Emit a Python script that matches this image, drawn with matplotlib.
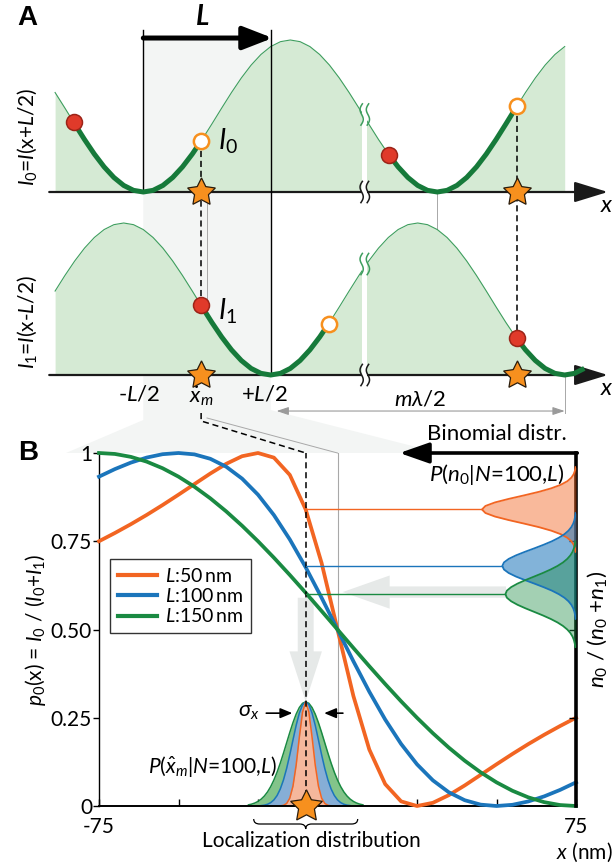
import numpy as np
import matplotlib
matplotlib.use("Agg")
import matplotlib.pyplot as plt
from matplotlib.lines import Line2D
from matplotlib.patches import Polygon, FancyArrow, Rectangle, PathPatch
from matplotlib.path import Path

plt.rcParams['font.family'] = ['Lato', 'DejaVu Sans']
plt.rcParams['mathtext.fontset'] = 'custom'
plt.rcParams['mathtext.rm'] = 'Lato'
plt.rcParams['mathtext.it'] = 'Lato:italic'
plt.rcParams['mathtext.bf'] = 'Lato:bold'
plt.rcParams['mathtext.sf'] = 'Lato'
plt.rcParams['axes.unicode_minus'] = False

# ======================= DATA =======================
# Panel A: schematic standing-wave intensity profile I(u), u in nm
intensity_u = list(range(-220, 450, 10))
intensity_I = [0.5523, 0.6545, 0.7500, 0.8346, 0.9045, 0.9568, 0.9891, 1.0000,
               0.9891, 0.9568, 0.9045, 0.8346, 0.7500, 0.6545, 0.5523, 0.4477,
               0.3455, 0.2500, 0.1654, 0.0955, 0.0432, 0.0109, 0.0000, 0.0109,
               0.0432, 0.0955, 0.1654, 0.2500, 0.3455, 0.4477, 0.5523, 0.6545,
               0.7500, 0.8346, 0.9045, 0.9568, 0.9891, 1.0000, 0.9891, 0.9568,
               0.9045, 0.8346, 0.7500, 0.6545, 0.5523, 0.4477, 0.3455, 0.2500,
               0.1654, 0.0955, 0.0432, 0.0109, 0.0000, 0.0109, 0.0432, 0.0955,
               0.1654, 0.2500, 0.3455, 0.4477, 0.5523, 0.6545, 0.7500, 0.8346,
               0.9045, 0.9568, 0.9891]
L_shift_A = 130          # schematic shift L in panel A (nm)
xm_A = -6                # measured emitter position
xr_A = 316               # same emitter, m*lambda/2 further
I_red_1, I_open_1 = 0.4582, 0.3356
I_red_2, I_open_2 = 0.2410, 0.5627
break_x_A = 161
break_levels = [0.49, 0.71]

# Panel B: p0(x) = I0/(I0+I1) for three shifts L
x_nm = list(range(-75, 80, 5))
p0_L50 = [0.7500, 0.7734, 0.7982, 0.8246, 0.8526, 0.8819, 0.9119, 0.9418, 0.9693, 0.9909,
          1.0000, 0.9869, 0.9380, 0.8400, 0.6884, 0.5000, 0.3116, 0.1600, 0.0620, 0.0131,
          0.0000, 0.0091, 0.0307, 0.0582, 0.0881, 0.1181, 0.1474, 0.1754, 0.2018, 0.2266, 0.2500]
p0_L100 = [0.9330, 0.9544, 0.9727, 0.9871, 0.9966, 1.0000, 0.9961, 0.9836, 0.9611, 0.9274,
           0.8819, 0.8242, 0.7551, 0.6762, 0.5900, 0.5000, 0.4100, 0.3238, 0.2449, 0.1758,
           0.1181, 0.0726, 0.0389, 0.0164, 0.0039, 0.0000, 0.0034, 0.0129, 0.0273, 0.0456, 0.0670]
p0_L150 = [1.0000, 0.9973, 0.9891, 0.9755, 0.9568, 0.9330, 0.9045, 0.8716, 0.8346, 0.7939,
           0.7500, 0.7034, 0.6545, 0.6040, 0.5523, 0.5000, 0.4477, 0.3960, 0.3455, 0.2966,
           0.2500, 0.2061, 0.1654, 0.1284, 0.0955, 0.0670, 0.0432, 0.0245, 0.0109, 0.0027, 0.0000]
series_labels = [r'$L$:50$\,$nm', r'$L$:100$\,$nm', r'$L$:150$\,$nm']
xm_B = -10
N_photons = 100

# Binomial distributions P(n0 | N=100, L)
n0_L50 = list(range(72, 97))
P_L50 = [0.0005, 0.0012, 0.0027, 0.0054, 0.0101, 0.0176, 0.0286, 0.0429, 0.0600, 0.0778,
         0.0937, 0.1047, 0.1087, 0.1047, 0.0937, 0.0778, 0.0600, 0.0429, 0.0286, 0.0176,
         0.0101, 0.0054, 0.0027, 0.0012, 0.0005]
n0_L100 = list(range(53, 84))
P_L100 = [0.0005, 0.0010, 0.0018, 0.0032, 0.0054, 0.0087, 0.0134, 0.0198, 0.0278, 0.0375,
          0.0481, 0.0591, 0.0694, 0.0778, 0.0833, 0.0852, 0.0833, 0.0778, 0.0694, 0.0591,
          0.0481, 0.0375, 0.0278, 0.0198, 0.0134, 0.0087, 0.0054, 0.0032, 0.0018, 0.0010, 0.0005]
n0_L150 = list(range(45, 76))
P_L150 = [0.0007, 0.0014, 0.0024, 0.0040, 0.0065, 0.0101, 0.0150, 0.0214, 0.0293, 0.0384,
          0.0484, 0.0584, 0.0676, 0.0750, 0.0799, 0.0816, 0.0799, 0.0750, 0.0676, 0.0584,
          0.0484, 0.0384, 0.0293, 0.0214, 0.0150, 0.0101, 0.0065, 0.0040, 0.0024, 0.0014, 0.0007]

# Localization distributions P(x_m | N=100, L)
loc_x_L50 = list(range(-18, -1))
loc_P_L50 = [0.0004, 0.0019, 0.0072, 0.0223, 0.0565, 0.116, 0.195, 0.266, 0.295,
             0.266, 0.195, 0.116, 0.0565, 0.0223, 0.0072, 0.0019, 0.0004]
loc_x_L100 = list(range(-24, 5))
loc_P_L100 = [0.0012, 0.0024, 0.0050, 0.0096, 0.0173, 0.0297, 0.0481, 0.0736, 0.1063, 0.1452,
              0.1874, 0.2286, 0.2634, 0.2868, 0.295, 0.2868, 0.2634, 0.2286, 0.1874, 0.1452,
              0.1063, 0.0736, 0.0481, 0.0297, 0.0173, 0.0096, 0.0050, 0.0024, 0.0012]
loc_x_L150 = list(range(-28, 9))
loc_P_L150 = [0.0033, 0.0053, 0.0084, 0.0130, 0.0194, 0.0282, 0.0399, 0.0550, 0.0736, 0.0958,
              0.1213, 0.1494, 0.1789, 0.2084, 0.2362, 0.2603, 0.2790, 0.2909, 0.295, 0.2909,
              0.2790, 0.2603, 0.2362, 0.2084, 0.1789, 0.1494, 0.1213, 0.0958, 0.0736, 0.0550,
              0.0399, 0.0282, 0.0194, 0.0130, 0.0084, 0.0053, 0.0033]

# ======================= STYLE =======================
C_OR, C_BL, C_GR = '#F26522', '#1B75BB', '#1A8A42'
LOC_FILL = ['#F5B79C', '#86AED6', '#83C48A']
A_FILL, A_THIN, A_THICK = '#D5EAD4', '#3E9E5E', '#167A3A'
STAR_FC, STAR_EC = '#F7901E', '#2A1C0C'
RED_FC, RED_EC = '#E03A2A', '#9C2418'
GRAY_BG, GRAY_ARROW, GRAY_LINE = '#F3F5F4', '#E6E9E8', '#A8A8A8'
STAR = (5, 1, 0)

W, H = 616, 864
fig = plt.figure(figsize=(W / 100, H / 100), dpi=100)
fig.patch.set_facecolor('white')


def fr(x0, y0, x1, y1):
    return [x0 / W, 1 - y1 / H, (x1 - x0) / W, (y1 - y0) / H]


def to_px(ax, x, y):
    X, Y = ax.transData.transform((x, y))
    return X, H - Y


def overlay(z):
    ax = fig.add_axes([0, 0, 1, 1])
    ax.set_zorder(z)
    ax.set_xlim(0, W)
    ax.set_ylim(H, 0)
    ax.axis('off')
    return ax


bg = overlay(-20)
fg = overlay(20)

# ---------------- Panel A axes ----------------
A_PX0, A_PXS, A_VS = 207, 0.98, 152


def a_axes(base_px, top_px, bot_px):
    ax = fig.add_axes(fr(40, top_px, 600, bot_px))
    ax.set_xlim((40 - A_PX0) / A_PXS, (600 - A_PX0) / A_PXS)
    ax.set_ylim((base_px - bot_px) / A_VS, (base_px - top_px) / A_VS)
    ax.axis('off')
    return ax


axT = a_axes(192, 20, 200)
axL = a_axes(375, 192, 420)
yb_T = (192 - 375) / A_VS  # bottom-panel baseline in top-axes units

u = np.array(intensity_u, float)
Iu = np.array(intensity_I)
half = L_shift_A / 2


def seg(xc, yc, x0, y0, x1, y1):
    m = (xc > x0) & (xc < x1)
    return np.r_[x0, xc[m], x1], np.r_[y0, yc[m], y1]


def squiggle(ax, xc, yc, color):
    s = np.linspace(0, 1, 40)
    for dx in (-3.2, 3.2):
        ax.plot(xc + dx + 2.0 * np.sin(2 * np.pi * s) + 1.5 * (s - 0.5),
                yc - 0.07 + 0.14 * s, color=color, lw=1.1, clip_on=False, zorder=6)


for ax, xs, lvl in ((axT, u - half, break_levels[0]), (axL, u + half, break_levels[1])):
    m = (xs >= -156) & (xs <= 366)
    ax.fill_between(xs[m], 0, Iu[m], color=A_FILL, lw=0, zorder=1)
    ax.plot(xs[m], Iu[m], color=A_THIN, lw=0.8, zorder=2)
    ax.annotate('', xy=(409, 0), xytext=(-161, 0),
                arrowprops=dict(arrowstyle='-|>,head_length=1.3,head_width=0.4', color='#1a1a1a',
                                lw=1.6, shrinkA=0, shrinkB=0, mutation_scale=16),
                annotation_clip=False, zorder=3)
    ax.add_patch(Rectangle((break_x_A - 2.6, -0.05), 5.2, lvl + 0.09, facecolor='white',
                           edgecolor='none', zorder=4, clip_on=False))
    squiggle(ax, break_x_A, lvl + 0.02, A_THIN)
    squiggle(ax, break_x_A, 0.0, '#1a1a1a')
    ax.text(408, -0.088, r'$x$', fontsize=17, ha='center', va='center')

# thick scanned segments
xsT, xsB = u - half, u + half
for x0, y0, x1, y1 in ((xm_A - L_shift_A, I_red_1, xm_A, I_open_1),
                       (xr_A - L_shift_A, I_red_2, xr_A, I_open_2)):
    sx, sy = seg(xsT, Iu, x0, y0, x1, y1)
    axT.plot(sx, sy, color=A_THICK, lw=3.6, solid_capstyle='butt', zorder=5, clip_on=False)
sx, sy = seg(xsB, Iu, xm_A, I_red_1, xm_A + L_shift_A, I_open_1)
axL.plot(sx, sy, color=A_THICK, lw=3.6, solid_capstyle='butt', zorder=5, clip_on=False)
mB = (xsB > xr_A) & (xsB <= 386)
axL.plot(np.r_[xr_A, xsB[mB]], np.r_[I_red_2, Iu[mB]], color=A_THICK, lw=3.6,
         solid_capstyle='butt', zorder=5, clip_on=False)

# vertical lines in A
axT.plot([-half, -half], [0, 1.066], color='k', lw=1.0, zorder=3, clip_on=False)
axT.plot([half, half], [yb_T, 1.066], color='k', lw=1.0, zorder=3, clip_on=False)
axT.plot([0, 0], [0, yb_T], color=GRAY_LINE, lw=0.7, zorder=2.5, clip_on=False)
axT.plot([-half + 300, -half + 300], [0, yb_T], color=GRAY_LINE, lw=0.7, zorder=2.5, clip_on=False)
axL.plot([half + 300, half + 300], [0, -0.25], color=GRAY_LINE, lw=0.7, zorder=2.5, clip_on=False)
for xv, ytop in ((xm_A, I_open_1), (xr_A, I_open_2)):
    axT.plot([xv, xv], [ytop, yb_T], color='k', lw=1.1, ls=(0, (4, 2.5)), zorder=6, clip_on=False)

# markers
kw_red = dict(marker='o', ms=11.5, mfc=RED_FC, mec=RED_EC, mew=1.1, ls='none', zorder=8, clip_on=False)
kw_open = dict(marker='o', ms=11, mfc='white', mec=STAR_FC, mew=1.8, ls='none', zorder=8, clip_on=False)
kw_star = dict(marker=STAR, ms=21, mfc=STAR_FC, mec=STAR_EC, mew=0.9, ls='none', zorder=9, clip_on=False)
axT.plot([xm_A - L_shift_A, xr_A - L_shift_A], [I_red_1, I_red_2], **kw_red)
axT.plot([xm_A, xr_A], [I_open_1, I_open_2], **kw_open)
axT.plot([xm_A, xr_A], [0, 0], **kw_star)
axL.plot([xm_A, xr_A], [I_red_1, I_red_2], **kw_red)
axL.plot([xm_A + L_shift_A], [I_open_1], **kw_open)
axL.plot([xm_A, xr_A], [0, 0], **kw_star)

# L arrow
axT.annotate('', xy=(half + 2, 1.013), xytext=(-half, 1.013),
             arrowprops=dict(arrowstyle='-|>,head_length=0.9,head_width=0.35', color='k', lw=3.6,
                             shrinkA=0, shrinkB=0, mutation_scale=20), annotation_clip=False, zorder=7)
axT.text(-4, 1.15, 'L', fontsize=20, fontweight='bold', fontstyle='italic', ha='center', va='center')
axT.text(11, I_open_1 + 0.0, r'$I_0$', fontsize=20, ha='left', va='center')
axL.text(11, 0.42, r'$I_1$', fontsize=20, ha='left', va='center')
axL.text(-69, -0.125, r'-$L$/2', fontsize=16, ha='center', va='center')
axL.text(59, -0.125, r'+$L$/2', fontsize=16, ha='center', va='center')
axL.text(xm_A, -0.14, r'$\dot{x}_m$', fontsize=16, ha='center', va='center')
axL.annotate('', xy=(half + 300, -0.237), xytext=(half + 6, -0.237),
             arrowprops=dict(arrowstyle='<|-|>,head_length=0.6,head_width=0.2', color='#9a9a9a', lw=0.8,
                             shrinkA=0, shrinkB=0, mutation_scale=12), annotation_clip=False)
axL.text(218, -0.16, r'$m\lambda$/2', fontsize=16, ha='center', va='center')

fg.text(27, 137, r'$I_0$=$I$(x+$L$/2)', rotation=90, fontsize=15, ha='center', va='center')
fg.text(27, 322, r'$I_1$=$I$(x-$L$/2)', rotation=90, fontsize=15, ha='center', va='center')
fg.text(27, 18, 'A', fontsize=20, fontweight='bold', family='Liberation Sans', ha='center', va='center')
fg.text(28, 453, 'B', fontsize=20, fontweight='bold', family='Liberation Sans', ha='center', va='center')

# ---------------- Panel B axes ----------------
axB = fig.add_axes(fr(99, 453, 576, 806))
axB.set_facecolor('none')
axB.set_xlim(-75, 75)
axB.set_ylim(0, 1)
for c, p in zip((C_OR, C_BL, C_GR), (p0_L50, p0_L100, p0_L150)):
    axB.plot(x_nm, p, color=c, lw=2.7, clip_on=False, zorder=4, solid_joinstyle='round')
axB.axvline(0, color=GRAY_LINE, lw=0.8, zorder=1)
axB.plot([xm_B, xm_B], [0, 1], color='k', lw=1.1, ls=(0, (4, 2.5)), zorder=6, clip_on=False)

# big gray arrows
axB.add_patch(FancyArrow(53, 0.606, 1.6 - 53, 0, width=0.032, head_width=0.094, head_length=14.8,
                         length_includes_head=True, color=GRAY_ARROW, lw=0, zorder=0.5))
axB.add_patch(FancyArrow(xm_B, 0.59, 0, 0.296 - 0.59, width=5.0, head_width=10.2, head_length=0.142,
                         length_includes_head=True, color=GRAY_ARROW, lw=0, zorder=0.5))

# localization distributions
for xs, ps, fc, ec, z in ((loc_x_L150, loc_P_L150, LOC_FILL[2], C_GR, 2),
                          (loc_x_L100, loc_P_L100, LOC_FILL[1], C_BL, 2.2),
                          (loc_x_L50, loc_P_L50, LOC_FILL[0], C_OR, 2.4)):
    axB.fill_between(xs, 0, ps, color=fc, lw=0, zorder=z)
    axB.plot(xs, ps, color=ec, lw=1.1, zorder=z + 0.05)
axB.plot([xm_B], [0], marker=STAR, ms=24, mfc=STAR_FC, mec=STAR_EC, mew=0.9, ls='none',
         zorder=9, clip_on=False)

# spines / ticks
axB.spines['top'].set_visible(False)
axB.spines['right'].set_visible(False)
axB.spines['left'].set_linewidth(1.0)
axB.spines['bottom'].set_linewidth(1.4)
axB.set_yticks([0, 0.25, 0.5, 0.75, 1])
axB.set_yticklabels(['0', '0.25', '0.50', '0.75', '1'])
axB.set_xticks([-75, -50, -25, 0, 25, 50, 75])
axB.set_xticklabels(['-75', '', '', '', '', '', '75'])
axB.tick_params(axis='y', direction='out', length=4, width=1, labelsize=15, pad=1)
axB.tick_params(axis='x', direction='in', length=5, width=1, labelsize=15, pad=8)
axB.set_ylabel(r'$p_0$(x) = $I_0$ / ($I_0$+$I_1$)', fontsize=15, labelpad=2)
axB.text(86.5, -0.13, r'$x$ (nm)', fontsize=15, ha='right', va='center')

axR = axB.twinx()
axR.set_facecolor('none')
axR.set_ylim(0, 1)
for s in ('top', 'left', 'bottom'):
    axR.spines[s].set_visible(False)
axR.spines['right'].set_linewidth(2.6)
axR.set_yticks([0.25, 0.5, 0.75])
axR.set_yticklabels([])
axR.tick_params(axis='y', direction='in', length=5, width=1)
axR.set_ylabel(r'$n_0$ / ($n_0$ +$n_1$)', fontsize=16, labelpad=3)

axB.annotate('', xy=(19.5, 1.0), xytext=(75.4, 1.0),
             arrowprops=dict(arrowstyle='-|>,head_length=1.0,head_width=0.35', color='k', lw=2.6,
                             shrinkA=0, shrinkB=0, mutation_scale=18), annotation_clip=False, zorder=7)
axB.text(72, 1.053, 'Binomial distr.', fontsize=16, ha='right', va='center')
axB.text(71.5, 0.94, r'$P$($n_0$|$N$=100,$L$)', fontsize=16, ha='right', va='center')

# binomial distributions (horizontal)
PX_PER_P = 865.0
axD = fig.add_axes(fr(99, 453, 576, 806))
axD.set_zorder(axB.get_zorder() + 0.5)
axD.set_xlim(477 / PX_PER_P, 0)
axD.set_ylim(0, 1)
axD.axis('off')
for n0, P, c, a in ((n0_L50, P_L50, C_OR, 0.45), (n0_L100, P_L100, C_BL, 0.55),
                    (n0_L150, P_L150, C_GR, 0.40)):
    yv = np.array(n0) / N_photons
    axD.fill_betweenx(yv, 0, P, color=c, alpha=a, lw=0)
    axD.plot(P, yv, color=c, lw=1.3)
    k = int(np.argmax(P))
    xm_D = axD.transData.inverted().transform(axB.transData.transform((xm_B, 0)))[0]
    axD.plot([xm_D, P[k]], [yv[k], yv[k]], color=c, lw=1.0)

# legend
handles = [Line2D([], [], color=c, lw=3) for c in (C_OR, C_BL, C_GR)]
leg = axB.legend(handles, series_labels, loc='upper left', bbox_to_anchor=(0.023, 0.70),
                 frameon=True, fancybox=False, edgecolor='k', fontsize=14, handlelength=2.0,
                 handletextpad=0.45, labelspacing=0.12, borderpad=0.4, borderaxespad=0)
leg.get_frame().set_linewidth(1.0)
leg.set_zorder(8)

# sigma_x and P(x_m) labels
axB.annotate('', xy=(-14.2, 0.263), xytext=(-22.4, 0.263),
             arrowprops=dict(arrowstyle='-|>,head_length=0.6,head_width=0.25', color='k', lw=1.2,
                             shrinkA=0, shrinkB=0, mutation_scale=12))
axB.annotate('', xy=(-4.2, 0.263), xytext=(1.7, 0.263),
             arrowprops=dict(arrowstyle='-|>,head_length=0.6,head_width=0.25', color='k', lw=1.2,
                             shrinkA=0, shrinkB=0, mutation_scale=12))
axB.text(-24.5, 0.266, r'$\sigma_x$', fontsize=16, ha='right', va='center')
axB.text(-19, 0.113, r'$P$($\hat{x}_m$|$N$=100,$L$)', fontsize=15, ha='right', va='center')

# curly brace + caption
cx, _ = to_px(axB, xm_B, 0)
y0, y1, y2 = 819, 824, 829
verts = [(cx - 52, y0), (cx - 52, y1), (cx - 46, y1), (cx - 6, y1), (cx, y1), (cx, y2),
         (cx, y1), (cx + 6, y1), (cx + 46, y1), (cx + 52, y1), (cx + 52, y0)]
codes = [Path.MOVETO, Path.CURVE3, Path.CURVE3, Path.LINETO, Path.CURVE3, Path.CURVE3,
         Path.CURVE3, Path.CURVE3, Path.LINETO, Path.CURVE3, Path.CURVE3]
fg.add_patch(PathPatch(Path(verts, codes), facecolor='none', edgecolor='k', lw=0.9))
fg.text(cx + 6, 841, 'Localization distribution', fontsize=15, ha='center', va='center')

# ---------------- connectors between panels ----------------
pxLm, _ = to_px(axT, -half, 0)
pxLp, _ = to_px(axT, half, 0)
_, pyB1 = to_px(axB, 0, 1)
bg.add_patch(Polygon([(pxLm, 38), (pxLp, 38), (pxLp, 410), (440, pyB1), (66, pyB1), (pxLm, 420)],
                     closed=True, facecolor=GRAY_BG, edgecolor='none'))

px_xmA, _ = to_px(axL, xm_A, 0)
px_xmB, _ = to_px(axB, xm_B, 1)
px_0A, _ = to_px(axL, 0, 0)
px_0B, _ = to_px(axB, 0, 1)
fg.plot([px_xmA, px_xmA, px_xmB], [413, 421, pyB1], color='k', lw=1.1, ls=(0, (4, 2.5)))
fg.plot([px_0A, px_0B], [418, pyB1], color=GRAY_LINE, lw=0.7)

fig.savefig('out.png', dpi=100, facecolor='white')
